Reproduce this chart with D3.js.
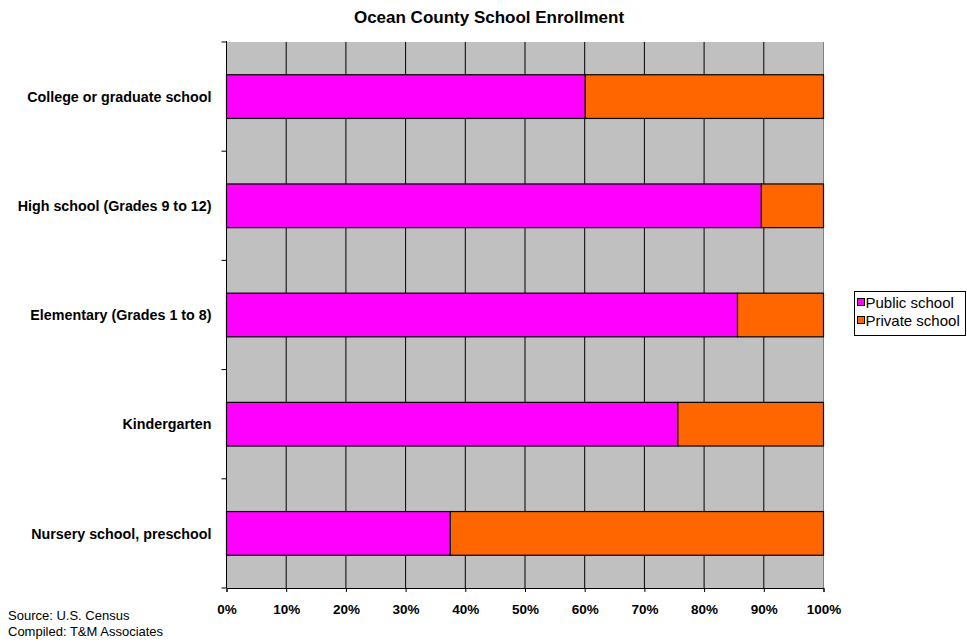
<!DOCTYPE html>
<html lang="en">
<head>
    <meta charset="UTF-8">
    <title>Ocean County School Enrollment</title>
    <script src="https://d3js.org/d3.v7.min.js"></script>
    <style>
        body { margin: 0; background: #fff; }
        text { font-family: "Liberation Sans", Arial, sans-serif; }
    </style>
</head>
<body>
    <svg id="chart" width="967" height="644"></svg>
    <script>
        const categories = ["College or graduate school", "High school (Grades 9 to 12)",
            "Elementary (Grades 1 to 8)", "Kindergarten", "Nursery school, preschool"];
        const publicShare = [60.1, 89.6, 85.6, 75.6, 37.5];
        const privateShare = [39.9, 10.4, 14.4, 24.4, 62.5];
        const seriesNames = ["Public school", "Private school"];
        const seriesColors = ["#FF00FF", "#FF6600"];
        const xTicks = [0, 10, 20, 30, 40, 50, 60, 70, 80, 90, 100];

        const svg = d3.select("#chart");
        const margin = { top: 42, left: 226.5, right: 143.5, bottom: 56 };
        const width = +svg.attr("width");
        const height = +svg.attr("height");
        const plotWidth = width - margin.left - margin.right;
        const plotHeight = height - margin.top - margin.bottom;

        const x = d3.scaleLinear().domain([0, 100]).range([0, plotWidth]);
        const y = d3.scaleBand().domain(categories).range([0, plotHeight]).paddingInner(0.6).paddingOuter(0.3);
        const yOuter = d3.scaleBand().domain(categories).range([0, plotHeight]);

        const plot = svg.append("g")
            .attr("transform", `translate(${margin.left},${margin.top})`);

        plot.append("rect")
            .attr("width", plotWidth)
            .attr("height", plotHeight)
            .attr("fill", "#C0C0C0");

        plot.selectAll(".grid").data(xTicks.slice(1, -1))
            .join("line")
            .attr("class", "grid")
            .attr("x1", d => x(d)).attr("x2", d => x(d))
            .attr("y1", 0).attr("y2", plotHeight)
            .attr("stroke", "#000").attr("stroke-width", 1);

        // right edge of plot area
        plot.append("line")
            .attr("x1", plotWidth).attr("x2", plotWidth)
            .attr("y1", 0).attr("y2", plotHeight)
            .attr("stroke", "#808080");

        const rows = categories.map((c, i) => ({ cat: c, pub: publicShare[i], priv: privateShare[i] }));

        plot.selectAll(".pub").data(rows)
            .join("rect")
            .attr("class", "pub")
            .attr("x", x(0))
            .attr("y", d => y(d.cat))
            .attr("width", d => x(d.pub) - x(0))
            .attr("height", y.bandwidth())
            .attr("fill", seriesColors[0])
            .attr("stroke", "#000").attr("stroke-width", 1.2);

        plot.selectAll(".priv").data(rows)
            .join("rect")
            .attr("class", "priv")
            .attr("x", d => x(d.pub))
            .attr("y", d => y(d.cat))
            .attr("width", d => x(d.pub + d.priv) - x(d.pub))
            .attr("height", y.bandwidth())
            .attr("fill", seriesColors[1])
            .attr("stroke", "#000").attr("stroke-width", 1.2);

        // axes
        const xAxis = plot.append("g")
            .attr("transform", `translate(0,${plotHeight})`)
            .call(d3.axisBottom(x).tickValues(xTicks).tickSize(4).tickFormat(d => d + "%"));
        xAxis.select(".domain").attr("stroke", "#000");
        xAxis.selectAll("text")
            .attr("y", 26).attr("dy", 0)
            .style("font-size", "13.5px").style("font-weight", "bold").attr("fill", "#000");

        const yAxis = plot.append("g");
        yAxis.append("line")
            .attr("x1", 0).attr("x2", 0).attr("y1", -1).attr("y2", plotHeight)
            .attr("stroke", "#000");
        yAxis.selectAll(".ytick").data([0].concat(categories.map(c => yOuter(c) + yOuter.bandwidth())))
            .join("line")
            .attr("class", "ytick")
            .attr("x1", -5).attr("x2", 0)
            .attr("y1", d => d).attr("y2", d => d)
            .attr("stroke", "#000");
        yAxis.selectAll(".ylabel").data(categories)
            .join("text")
            .attr("class", "ylabel")
            .attr("x", -15)
            .attr("y", d => y(d) + y.bandwidth() / 2)
            .attr("dy", "0.36em")
            .attr("text-anchor", "end")
            .style("font-size", "14.3px").style("font-weight", "bold")
            .text(d => d);

        // title
        svg.append("text")
            .attr("x", 489).attr("y", 23)
            .attr("text-anchor", "middle")
            .style("font-size", "17px").style("font-weight", "bold")
            .text("Ocean County School Enrollment");

        // legend
        const legend = svg.append("g").attr("transform", "translate(854.5,291.5)");
        legend.append("rect")
            .attr("width", 111).attr("height", 44)
            .attr("fill", "#fff").attr("stroke", "#000");
        seriesNames.forEach((name, i) => {
            legend.append("rect")
                .attr("x", 3).attr("y", 7 + i * 18)
                .attr("width", 7).attr("height", 7)
                .attr("fill", seriesColors[i]).attr("stroke", "#000");
            legend.append("text")
                .attr("x", 11).attr("y", 16 + i * 18)
                .style("font-size", "15px")
                .text(name);
        });

        // source note
        svg.append("text")
            .attr("x", 8).attr("y", 620)
            .style("font-size", "13px")
            .text("Source: U.S. Census");
        svg.append("text")
            .attr("x", 8).attr("y", 636)
            .style("font-size", "13px")
            .text("Compiled: T&M Associates");
    </script>
</body>
</html>
